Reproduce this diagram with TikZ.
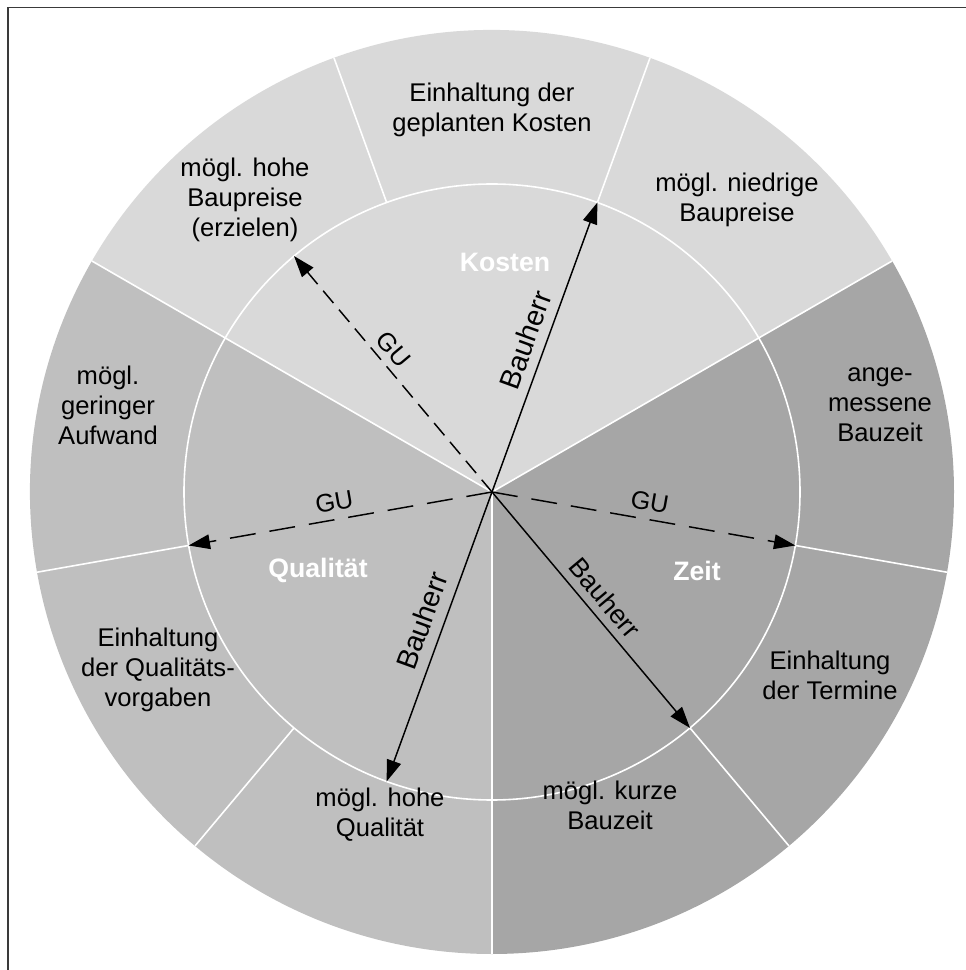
\documentclass[tikz,border=0pt]{standalone}
\usepackage{fontspec}
\setmainfont{Liberation Sans}
\usetikzlibrary{arrows.meta}

\definecolor{kosten}{HTML}{D9D9D9}
\definecolor{qualitaet}{HTML}{BFBFBF}
\definecolor{zeit}{HTML}{A6A6A6}
\definecolor{framegray}{HTML}{3A3A3A}

\begin{document}
\begin{tikzpicture}[x=0.75pt,y=0.75pt,
  ringtext/.style={align=center, font=\fontsize{19.2}{22.5}\selectfont, inner sep=0pt},
  sectorlabel/.style={font=\fontsize{20}{24}\selectfont\bfseries, text=white, inner sep=0pt},
  divider/.style={white, line width=1.2pt},
  bauherr/.style={black, line width=1.1pt},
  gu/.style={black, line width=1.1pt},
  arrowlabel/.style={font=\fontsize{19}{22.5}\selectfont, inner sep=0pt, sloped},
  biglabel/.style={arrowlabel, font=\fontsize{21.5}{24}\selectfont}
]
\useasboundingbox (-492,-478) rectangle (474,492);

% frame
\draw[framegray, line width=1.1pt] (-484,-482) -- (-484,484.5) -- (478,484.5);

\def\R{462}
\def\r{308}

% three sectors
\fill[kosten]    (0,0) -- (30:\R)  arc[start angle=30,  end angle=150, radius=\R] -- cycle;
\fill[qualitaet] (0,0) -- (150:\R) arc[start angle=150, end angle=270, radius=\R] -- cycle;
\fill[zeit]      (0,0) -- (270:\R) arc[start angle=270, end angle=390, radius=\R] -- cycle;

% dividing lines
\draw[divider] (0,0) circle[radius=\r];
\foreach \a in {30,150,270} \draw[divider] (0,0) -- (\a:\R);
\foreach \a in {70,110,190,230,310,350} \draw[divider] (\a:\r) -- (\a:\R);

% named points
\coordinate (c) at (0,0);
\coordinate (k70) at (70:\r);
\coordinate (k130) at (130:\r);
\coordinate (q190) at (190:\r);
\coordinate (q250) at (250:\r);
\coordinate (z310) at (310:\r);
\coordinate (z350) at (350:\r);

% outer ring texts
\node[ringtext] (t1) at (0,382)    {Einhaltung der\\geplanten Kosten};
\node[ringtext] (t2) at (-247,292) {mögl. hohe\\Baupreise\\(erzielen)};
\node[ringtext] (t3) at (245,292)  {mögl. niedrige\\Baupreise};
\node[ringtext] (t4) at (-384,87)  {mögl.\\geringer\\Aufwand};
\node[ringtext] (t5) at (388,87)   {ange-\\messene\\Bauzeit};
\node[ringtext] (t6) at (-334,-178){Einhaltung\\der Qualitäts-\\vorgaben};
\node[ringtext] (t7) at (338,-183) {Einhaltung\\der Termine};
\node[ringtext] (t8) at (-112,-323){mögl. hohe\\Qualität};
\node[ringtext] (t9) at (118,-313) {mögl. kurze\\Bauzeit};

% sector titles
\node[sectorlabel] (kl) at (13,230)   {Kosten};
\node[sectorlabel] (ql) at (-174,-78) {Qualität};
\node[sectorlabel] (zl) at (205,-79)  {Zeit};

% arrows
\draw[bauherr, {Triangle[length=16pt,width=11pt]}-{Triangle[length=16pt,width=11pt]}] (q250) -- (k70)
  node[biglabel, pos=0.75, above=7pt] {Bauherr}
  node[biglabel, pos=0.265, above=8pt] {Bauherr};
\draw[bauherr, -{Triangle[length=16pt,width=11pt]}] (c) -- (z310)
  node[arrowlabel, pos=0.5, above=6pt, font=\fontsize{20}{24}\selectfont] {Bauherr};
\draw[gu, dash pattern=on 12pt off 6.5pt, -{Triangle[length=16pt,width=11pt]}] (c) -- (k130)
  node[arrowlabel, pos=0.56, above=5pt] {GU};
\draw[gu, dash pattern=on 19.5pt off 10.5pt, -{Triangle[length=16pt,width=11pt]}] (c) -- (q190)
  node[arrowlabel, pos=0.51, above=6pt] {GU};
\draw[gu, dash pattern=on 19.5pt off 10.5pt, -{Triangle[length=16pt,width=11pt]}] (c) -- (z350)
  node[arrowlabel, pos=0.51, above=6pt] {GU};
\end{tikzpicture}
\end{document}
